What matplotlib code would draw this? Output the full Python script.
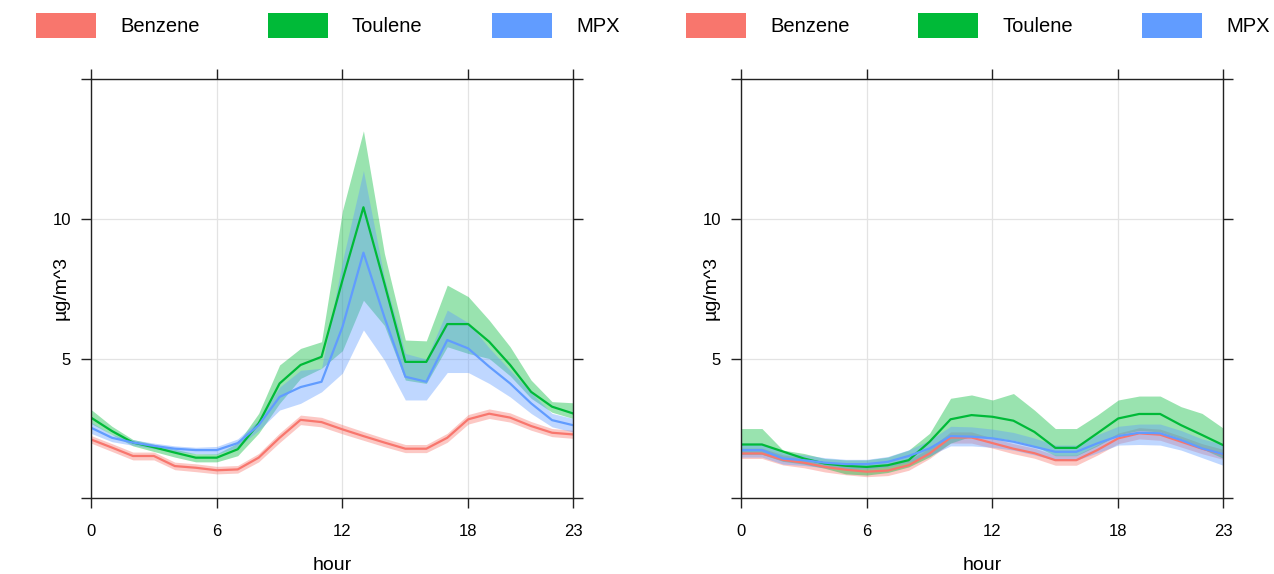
import matplotlib
matplotlib.use("Agg")
import matplotlib.pyplot as plt
from matplotlib.patches import Rectangle
import numpy as np

plt.rcParams['font.family'] = ['Liberation Sans', 'DejaVu Sans']

hours = np.arange(24)
species = ["Benzene", "Toulene", "MPX"]
colours = ["#F8766D", "#00BA38", "#619CFF"]

# left panel: mean, lower, upper
benzene_l = [2.13, 1.84, 1.54, 1.54, 1.18, 1.12, 1.03, 1.06, 1.48, 2.19, 2.83, 2.75,
             2.49, 2.25, 2.02, 1.80, 1.80, 2.19, 2.85, 3.05, 2.91, 2.61, 2.37, 2.31]
benzene_l_lo = [2.00, 1.70, 1.40, 1.40, 1.05, 0.98, 0.90, 0.93, 1.33, 2.02, 2.66, 2.58,
                2.33, 2.10, 1.87, 1.66, 1.66, 2.03, 2.68, 2.88, 2.75, 2.46, 2.23, 2.17]
benzene_l_hi = [2.27, 1.98, 1.68, 1.68, 1.32, 1.26, 1.17, 1.20, 1.63, 2.36, 3.00, 2.92,
                2.66, 2.41, 2.17, 1.95, 1.95, 2.35, 3.02, 3.22, 3.08, 2.77, 2.52, 2.46]

toulene_l = [2.91, 2.43, 2.02, 1.85, 1.66, 1.48, 1.48, 1.78, 2.70, 4.13, 4.79, 5.08,
             7.82, 10.42, 7.70, 4.90, 4.90, 6.25, 6.25, 5.62, 4.79, 3.83, 3.30, 3.06]
toulene_l_lo = [2.70, 2.30, 1.90, 1.70, 1.50, 1.33, 1.33, 1.55, 2.35, 3.42, 4.31, 4.67,
                5.30, 7.10, 6.20, 4.25, 4.13, 5.44, 5.20, 5.02, 4.40, 3.60, 3.10, 2.88]
toulene_l_hi = [3.20, 2.60, 2.13, 1.96, 1.78, 1.62, 1.62, 2.00, 3.06, 4.79, 5.38, 5.62,
                10.30, 13.15, 8.77, 5.68, 5.65, 7.64, 7.23, 6.39, 5.44, 4.25, 3.48, 3.44]

mpx_l = [2.55, 2.19, 2.02, 1.90, 1.80, 1.75, 1.75, 2.00, 2.64, 3.65, 4.00, 4.19,
         6.15, 8.80, 6.50, 4.37, 4.19, 5.68, 5.38, 4.73, 4.13, 3.42, 2.82, 2.64]
mpx_l_lo = [2.35, 2.05, 1.92, 1.80, 1.70, 1.62, 1.60, 1.85, 2.45, 3.18, 3.42, 3.83,
            4.50, 6.04, 4.96, 3.54, 3.54, 4.52, 4.52, 4.13, 3.65, 3.06, 2.58, 2.40]
mpx_l_hi = [2.75, 2.30, 2.12, 2.00, 1.90, 1.85, 1.88, 2.15, 2.82, 4.00, 4.60, 4.67,
            8.50, 11.73, 7.90, 5.20, 5.00, 6.75, 6.30, 5.40, 4.60, 3.80, 3.06, 2.88]

# right panel: mean, lower, upper
benzene_r = [1.63, 1.63, 1.40, 1.30, 1.15, 1.05, 0.98, 1.02, 1.21, 1.63, 2.20, 2.20,
             2.00, 1.80, 1.64, 1.39, 1.39, 1.75, 2.17, 2.35, 2.30, 2.05, 1.80, 1.60]
benzene_r_lo = [1.45, 1.45, 1.22, 1.12, 0.97, 0.87, 0.80, 0.84, 1.03, 1.45, 2.00, 2.00,
                1.82, 1.62, 1.46, 1.21, 1.21, 1.57, 1.98, 2.15, 2.10, 1.86, 1.62, 1.42]
benzene_r_hi = [1.82, 1.82, 1.58, 1.48, 1.33, 1.23, 1.16, 1.20, 1.40, 1.82, 2.40, 2.40,
                2.18, 1.98, 1.82, 1.57, 1.57, 1.94, 2.36, 2.55, 2.50, 2.25, 1.98, 1.78]

toulene_r = [1.95, 1.95, 1.70, 1.45, 1.27, 1.19, 1.15, 1.21, 1.39, 2.05, 2.85, 3.00,
             2.94, 2.80, 2.40, 1.83, 1.83, 2.35, 2.88, 3.04, 3.04, 2.64, 2.29, 1.93]
toulene_r_lo = [1.60, 1.60, 1.35, 1.25, 1.10, 0.90, 0.86, 0.95, 1.15, 1.51, 2.00, 2.25,
                2.20, 2.10, 1.90, 1.55, 1.55, 1.90, 2.30, 2.45, 2.40, 2.15, 1.80, 1.46]
toulene_r_hi = [2.52, 2.52, 1.75, 1.63, 1.45, 1.40, 1.40, 1.50, 1.75, 2.35, 3.60, 3.72,
                3.54, 3.77, 3.18, 2.52, 2.52, 3.00, 3.54, 3.68, 3.68, 3.30, 3.06, 2.54]

mpx_r = [1.75, 1.75, 1.45, 1.39, 1.30, 1.25, 1.25, 1.33, 1.54, 1.81, 2.25, 2.23,
         2.17, 2.05, 1.87, 1.69, 1.69, 1.99, 2.25, 2.37, 2.35, 2.11, 1.81, 1.61]
mpx_r_lo = [1.50, 1.50, 1.25, 1.20, 1.12, 1.08, 1.08, 1.15, 1.32, 1.55, 1.90, 1.90,
            1.85, 1.75, 1.58, 1.39, 1.39, 1.65, 1.93, 1.95, 1.93, 1.75, 1.48, 1.21]
mpx_r_hi = [2.00, 2.00, 1.65, 1.58, 1.48, 1.42, 1.42, 1.52, 1.76, 2.10, 2.60, 2.58,
            2.50, 2.38, 2.18, 1.93, 1.93, 2.30, 2.60, 2.68, 2.68, 2.45, 2.15, 1.96]

panels = [
    [(benzene_l, benzene_l_lo, benzene_l_hi),
     (toulene_l, toulene_l_lo, toulene_l_hi),
     (mpx_l, mpx_l_lo, mpx_l_hi)],
    [(benzene_r, benzene_r_lo, benzene_r_hi),
     (toulene_r, toulene_r_lo, toulene_r_hi),
     (mpx_r, mpx_r_lo, mpx_r_hi)],
]

W, H = 1274, 574
fig = plt.figure(figsize=(W / 100, H / 100), dpi=100)

ax_left_px = [91, 741]
ax_w_px, ax_top_px, ax_bot_px = 482, 79, 498
ax_h_px = ax_bot_px - ax_top_px
ylo, yhi = 0.04, 15.0

# legend layout in pixels, relative to the left panel
patch_x = [36, 268, 492]
text_x = [120, 352, 576]
patch_w, patch_top, patch_bot = 60, 13, 38

frame_col = "#222222"
for p, series in enumerate(panels):
    x0 = ax_left_px[p]
    ax = fig.add_axes([x0 / W, 1 - ax_bot_px / H, ax_w_px / W, ax_h_px / H])
    for (mean, lo, hi), col in zip(series, colours):
        ax.fill_between(hours, lo, hi, color=col, alpha=0.4, linewidth=0)
        ax.plot(hours, mean, color=col, lw=1.6)

    ax.set_xlim(0, 23)
    ax.set_ylim(ylo, yhi)
    ax.set_xticks([0, 6, 12, 18, 23])
    ax.set_yticks([ylo, 5, 10, yhi])
    ax.set_yticklabels(["", "5", "10", ""])
    ax.tick_params(axis="both", direction="out", length=7.5, width=1.0, color=frame_col,
                   labelsize=12, top=True, right=True, labeltop=False, labelright=False)
    ax.tick_params(axis="x", pad=11)
    ax.tick_params(axis="y", pad=7)
    for s in ax.spines.values():
        s.set_color(frame_col)
        s.set_linewidth(1.0)
    ax.grid(True, color="#e3e3e3", lw=0.9)
    ax.set_axisbelow(True)
    ax.set_xlabel("hour", fontsize=14)
    ax.set_ylabel("µg/m^3", fontsize=14)
    ax.xaxis.set_label_coords(0.5, -(557 - ax_bot_px) / ax_h_px)
    ax.yaxis.set_label_coords(-21 / ax_w_px, 0.5)

    # legend across the top of each panel
    off = x0 - ax_left_px[0]
    for name, col, px, tx in zip(species, colours, patch_x, text_x):
        fig.add_artist(Rectangle(((px + off) / W, 1 - patch_bot / H), patch_w / W,
                                 (patch_bot - patch_top) / H,
                                 transform=fig.transFigure, color=col, lw=0))
        fig.text((tx + off) / W, 1 - 27 / H, name, fontsize=14.5, va="center", ha="left")

fig.savefig("out.png", dpi=100)
